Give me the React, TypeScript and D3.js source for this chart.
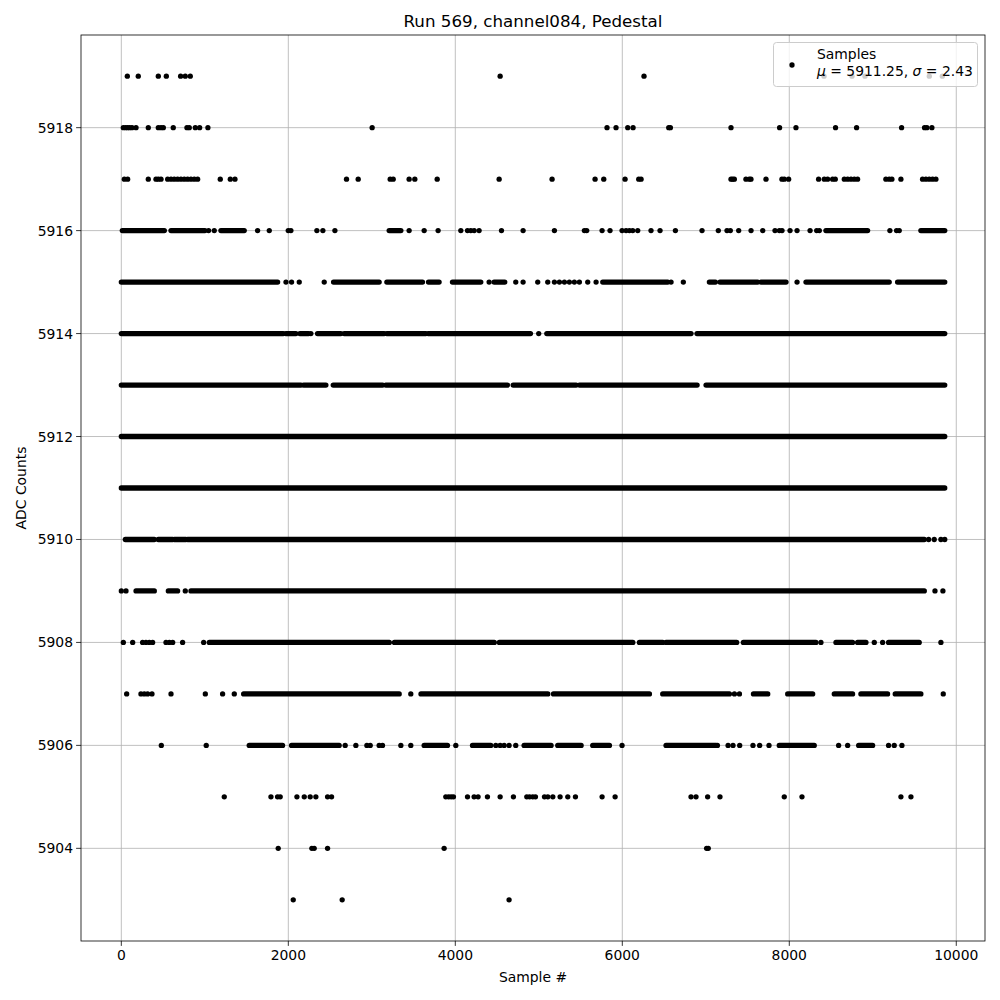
import React from "react";
import * as d3 from "d3";

const LEVELS = [5919, 5918, 5917, 5916, 5915, 5914, 5913, 5912, 5911, 5910, 5909, 5908, 5907, 5906, 5905, 5904, 5903];

// isolated samples per ADC level (sample index)
const POINTS: number[][] = [
  [72, 203, 443, 539, 710, 766, 826, 4537, 6260, 8416, 8751, 8907, 9677, 9833],
  [24, 52, 76, 100, 128, 176, 323, 443, 475, 503, 622, 786, 814, 886, 938, 1037, 3004, 5817, 5925, 6065, 6129, 6556, 6576, 7302, 7884, 8080, 8554, 8806, 9345, 9620, 9648, 9708],
  [36, 76, 323, 415, 443, 475, 555, 595, 634, 674, 714, 754, 794, 834, 874, 914, 1185, 1305, 1361, 2697, 2837, 3220, 3256, 3447, 3515, 3783, 4525, 5159, 5674, 5778, 6033, 6197, 6225, 7302, 7322, 7342, 7481, 7521, 7541, 7721, 7912, 7940, 7992, 8351, 8419, 8459, 8519, 8551, 8659, 8699, 8739, 8779, 8818, 9157, 9197, 9229, 9337, 9596, 9636, 9676, 9716, 9756],
  [1045, 1113, 1632, 1772, 1999, 2031, 2342, 2414, 2558, 3447, 3627, 3794, 4066, 4146, 4186, 4226, 4285, 4553, 4812, 5187, 5546, 5574, 5758, 5853, 5997, 6045, 6085, 6125, 6185, 6344, 6452, 6636, 6955, 7150, 7254, 7294, 7394, 7542, 7682, 7829, 7881, 7913, 8009, 8093, 8249, 8328, 8360, 9205, 9285, 9317],
  [1972, 2039, 2131, 2430, 4405, 4724, 4812, 4987, 5107, 5187, 5247, 5307, 5366, 5426, 5486, 5586, 5686, 6584, 6731, 8093],
  [2270, 4999],
  [],
  [],
  [],
  [9669, 9736, 9816, 9862],
  [0, 56, 766, 9745, 9840],
  [24, 136, 255, 295, 335, 375, 535, 575, 615, 734, 986, 8379, 9018, 9118, 9816],
  [64, 235, 275, 315, 367, 595, 1006, 1213, 1353, 3467, 7343, 7403, 9844],
  [479, 1017, 2681, 2809, 2941, 2981, 3088, 3128, 3348, 3467, 4006, 4485, 4537, 4585, 4644, 4724, 5997, 7139, 7267, 7326, 7406, 7565, 7645, 7757, 8591, 8699, 9189, 9257, 9349],
  [1233, 1792, 1871, 1903, 2103, 2191, 2262, 2330, 2470, 2518, 3886, 3920, 3950, 3978, 4146, 4225, 4273, 4385, 4537, 4696, 4856, 4890, 4928, 4960, 5068, 5108, 5168, 5255, 5347, 5439, 5758, 5914, 6823, 6883, 7022, 7170, 7940, 8152, 9337, 9457],
  [1879, 2282, 2310, 2470, 3866, 7010, 7030],
  [2059, 2645, 4644],
];

// dense runs of consecutive samples per ADC level [first, last]
const RUNS: [number, number][][] = [
  [],
  [],
  [],
  [[12, 515], [595, 1001], [1193, 1472], [3208, 3348], [8439, 8938], [9576, 9862]],
  [[0, 1872], [2542, 3088], [3180, 3607], [3679, 3806], [3966, 4305], [4465, 4592], [5766, 6544], [7043, 7115], [7170, 7621], [7661, 7961], [8200, 9197], [9297, 9862]],
  [[0, 1939], [1971, 2091], [2139, 2242], [2350, 2629], [2669, 3148], [3180, 3647], [3675, 4900], [5096, 6823], [6895, 9862]],
  [[0, 2151], [2183, 2450], [2538, 3129], [3168, 4625], [4693, 5447], [5487, 6896], [7003, 9862]],
  [[0, 9862]],
  [[0, 9862]],
  [[48, 395], [443, 615], [635, 774], [794, 9617]],
  [[176, 395], [563, 674], [834, 9617]],
  [[1054, 3210], [3271, 4467], [4527, 6126], [6205, 6484], [6524, 7370], [7450, 8319], [8559, 8758], [8818, 8918], [9189, 9556]],
  [[1465, 3328], [3589, 5108], [5176, 6325], [6484, 7283], [7571, 7742], [7981, 8280], [8539, 8758], [8858, 9177], [9269, 9576]],
  [[1532, 1931], [2039, 2609], [3627, 3906], [4206, 4425], [4824, 5147], [5227, 5507], [5646, 5846], [6524, 7122], [7880, 8299], [8831, 8998]],
  [],
  [],
  [],
];

const X_TICKS = [0, 2000, 4000, 6000, 8000, 10000];
const Y_TICKS = [5904, 5906, 5908, 5910, 5912, 5914, 5916, 5918];
const TITLE = "Run 569, channel084, Pedestal";
const MU = "5911.25";
const SIGMA = "2.43";

export default function App() {
  const L = 81, R = 985, T = 35, B = 941;
  const x = d3.scaleLinear().domain([-483, 10344]).range([L, R]);
  const y = d3.scaleLinear().domain([5902.2, 5919.8]).range([B, T]);
  const r = 2.65;
  const font = "DejaVu Sans, sans-serif";
  const line = d3.line<[number, number]>().x((d) => x(d[0])).y((d) => y(d[1]));

  return (
    <svg width={1000} height={1000} style={{ position: "absolute", left: 0, top: 0, display: "block" }} fontFamily={font}>
      <rect x={0} y={0} width={1000} height={1000} fill="#fff" />
      <defs>
        <clipPath id="plotclip">
          <rect x={L} y={T} width={R - L} height={B - T} />
        </clipPath>
      </defs>
      {/* grid */}
      {X_TICKS.map((t) => (
        <line key={"gx" + t} x1={x(t)} x2={x(t)} y1={T} y2={B} stroke="#b0b0b0" strokeWidth={0.8} />
      ))}
      {Y_TICKS.map((t) => (
        <line key={"gy" + t} x1={L} x2={R} y1={y(t)} y2={y(t)} stroke="#b0b0b0" strokeWidth={0.8} />
      ))}
      {/* data */}
      <g clipPath="url(#plotclip)">
        {RUNS.map((runs, i) =>
          runs.map((rn, j) => (
            <path
              key={"r" + i + "_" + j}
              d={line([[rn[0], LEVELS[i]], [rn[1], LEVELS[i]]]) || ""}
              stroke="#000"
              strokeWidth={2 * r}
              strokeLinecap="round"
              fill="none"
            />
          ))
        )}
        {POINTS.map((pts, i) =>
          pts.map((p, j) => <circle key={"p" + i + "_" + j} cx={x(p)} cy={y(LEVELS[i])} r={r} fill="#000" />)
        )}
      </g>
      {/* spines */}
      <rect x={L} y={T} width={R - L} height={B - T} fill="none" stroke="#000" strokeWidth={0.8} />
      {/* x ticks */}
      {X_TICKS.map((t) => (
        <g key={"tx" + t}>
          <line x1={x(t)} x2={x(t)} y1={B} y2={B + 4.9} stroke="#000" strokeWidth={0.8} />
          <text x={x(t)} y={B + 19} textAnchor="middle" fontSize={13.9} fill="#000">
            {t}
          </text>
        </g>
      ))}
      {Y_TICKS.map((t) => (
        <g key={"ty" + t}>
          <line x1={L - 4.9} x2={L} y1={y(t)} y2={y(t)} stroke="#000" strokeWidth={0.8} />
          <text x={L - 8} y={y(t) + 5} textAnchor="end" fontSize={13.9} fill="#000">
            {t}
          </text>
        </g>
      ))}
      {/* labels */}
      <text x={(L + R) / 2} y={982} textAnchor="middle" fontSize={13.9} fill="#000">
        Sample #
      </text>
      <text transform={`translate(26,${(T + B) / 2}) rotate(-90)`} textAnchor="middle" fontSize={13.9} fill="#000">
        ADC Counts
      </text>
      <text x={(L + R) / 2} y={27} textAnchor="middle" fontSize={16.7} fill="#000">
        {TITLE}
      </text>
      {/* legend */}
      <rect x={773.5} y={42.5} width={204} height={44} rx={3} fill="#fff" fillOpacity={0.8} stroke="#cccccc" strokeWidth={1} />
      <circle cx={792} cy={65} r={r} fill="#000" />
      <text x={817} y={59} fontSize={13.9} fill="#000">
        Samples
      </text>
      <text x={817} y={76} fontSize={13.9} fill="#000">
        <tspan fontStyle="italic">μ</tspan>
        <tspan>{` = ${MU}, `}</tspan>
        <tspan fontStyle="italic">σ</tspan>
        <tspan>{` = ${SIGMA}`}</tspan>
      </text>
    </svg>
  );
}
